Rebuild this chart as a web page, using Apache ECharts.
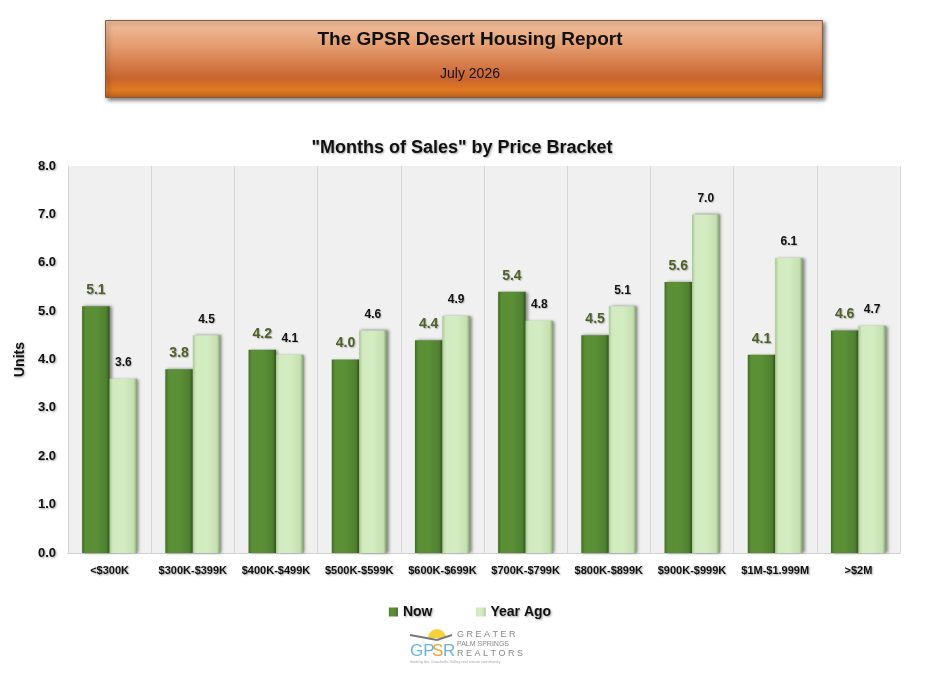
<!DOCTYPE html>
<html><head><meta charset="utf-8">
<script src="https://cdn.jsdelivr.net/npm/echarts@6/dist/echarts.min.js"></script>
<style>html,body{margin:0;padding:0;background:#fff}#c{width:940px;height:683px}</style>
</head><body><div id="c"></div>
<script>
const categories = ['<$300K','$300K-$399K','$400K-$499K','$500K-$599K','$600K-$699K','$700K-$799K','$800K-$899K','$900K-$999K','$1M-$1.999M','>$2M'];
const nowValues = [5.1,3.8,4.2,4.0,4.4,5.4,4.5,5.6,4.1,4.6];
const yearAgoValues = [3.6,4.5,4.1,4.6,4.9,4.8,5.1,7.0,6.1,4.7];
const yTicks = [0,1,2,3,4,5,6,7,8];

const chart = echarts.init(document.getElementById('c'));
const F = 'Arial, "Liberation Sans", sans-serif';
const shadowTxt = {textShadowColor:'rgba(0,0,0,0.35)', textShadowBlur:2, textShadowOffsetX:1, textShadowOffsetY:1};
const darkGrad = new echarts.graphic.LinearGradient(0,0,1,0,[
  {offset:0,color:'#3f6b22'},{offset:0.12,color:'#5a8f36'},{offset:0.5,color:'#5b9036'},{offset:0.88,color:'#4f8030'},{offset:1,color:'#2f521a'}]);
const lightGrad = new echarts.graphic.LinearGradient(0,0,1,0,[
  {offset:0,color:'#a9c893'},{offset:0.12,color:'#d2eabf'},{offset:0.5,color:'#d4ecc2'},{offset:0.88,color:'#c5e0b0'},{offset:1,color:'#7f9c6a'}]);

chart.setOption({
  animation:false,
  backgroundColor:'#ffffff',
  textStyle:{fontFamily:F},
  title:{text:'"Months of Sales" by Price Bracket', left:457, textAlign:'center', top:134,
    textStyle:Object.assign({fontSize:18,fontWeight:'bold',color:'#111',fontFamily:F},shadowTxt)},
  legend:{top:600, left:'center', itemGap:44, itemWidth:9, itemHeight:9, icon:'rect',
    textStyle:Object.assign({fontSize:14,fontWeight:'bold',color:'#111',fontFamily:F},shadowTxt),
    data:['Now','Year Ago']},
  grid:{left:68, right:40, top:166, bottom:130},
  xAxis:{type:'category', data:categories,
    axisLine:{show:true,lineStyle:{color:'#d0d0d0'}}, axisTick:{show:false},
    splitLine:{show:true,lineStyle:{color:'#d6d6d6'}},
    splitArea:{show:true,areaStyle:{color:['#f0f0f0','#f0f0f0']}},
    axisLabel:Object.assign({interval:0,fontSize:11,fontWeight:'bold',color:'#111',margin:12,fontFamily:F},shadowTxt)},
  yAxis:{type:'value', min:0, max:8, interval:1,
    name:'Units', nameLocation:'middle', nameGap:36, nameRotate:90,
    nameTextStyle:Object.assign({fontSize:14,fontWeight:'bold',color:'#111',fontFamily:F},shadowTxt),
    axisLine:{show:false}, axisTick:{show:false},
    splitLine:{lineStyle:{color:'#d6d6d6'}},
    axisLabel:Object.assign({fontSize:13,fontWeight:'bold',color:'#111',margin:12,fontFamily:F,
      formatter:v=>yTicks.includes(v)?v.toFixed(1):''},shadowTxt)},
  series:[
    {name:'Now', type:'bar', data:nowValues, barGap:'0%', barCategoryGap:'34%',
     itemStyle:{color:darkGrad, shadowColor:'rgba(0,0,0,0.45)', shadowBlur:3, shadowOffsetX:2, shadowOffsetY:0},
     label:{show:true, position:'top', distance:9, formatter:p=>p.value.toFixed(1),
       fontSize:14, fontWeight:'bold', color:'#4f6228', fontFamily:F, textShadowColor:'rgba(0,0,0,0.25)', textShadowBlur:1, textShadowOffsetX:1, textShadowOffsetY:1}},
    {name:'Year Ago', type:'bar', data:yearAgoValues,
     itemStyle:{color:lightGrad, shadowColor:'rgba(0,0,0,0.45)', shadowBlur:3, shadowOffsetX:2, shadowOffsetY:0},
     label:{show:true, position:'top', distance:10, formatter:p=>p.value.toFixed(1),
       fontSize:12, fontWeight:'bold', color:'#111', fontFamily:F, textShadowColor:'rgba(0,0,0,0.2)', textShadowBlur:1, textShadowOffsetX:1, textShadowOffsetY:1}}
  ],
  color:['#548235','#c4e0ae'],
  graphic:[
    {type:'rect', left:105, top:20, shape:{width:717,height:77},
     style:{fill:new echarts.graphic.LinearGradient(0,0,0,1,[
       {offset:0,color:'#f2c2a2'},{offset:0.35,color:'#e39a6c'},{offset:0.75,color:'#c9642e'},{offset:0.9,color:'#e07a22'},{offset:1,color:'#b8601c'}]),
       stroke:'#8a5a3a', lineWidth:1, shadowColor:'rgba(0,0,0,0.5)', shadowBlur:4, shadowOffsetX:2, shadowOffsetY:2}},
    {type:'text', left:'center', top:30, style:{text:'The GPSR Desert Housing Report', font:'bold 19px '+F, fill:'#111'}},
    {type:'text', left:'center', top:67, style:{text:'July 2026', font:'14px '+F, fill:'#111'}},
    // logo
    {type:'circle', shape:{cx:437,cy:638,r:9}, style:{fill:'#f5d23a'}},
    {type:'rect', shape:{x:405,y:638,width:50,height:14}, style:{fill:'#fff'}},
    {type:'polyline', shape:{points:[[410,635],[437,640],[452,635]]}, style:{stroke:'#777',lineWidth:2,fill:null}},
    {type:'text', left:410, top:643, style:{text:'GP', font:'17px '+F, fill:'#6bb4dc'}},
    {type:'text', left:432, top:643, style:{text:'S', font:'17px '+F, fill:'#f0a030'}},
    {type:'text', left:443, top:643, style:{text:'R', font:'17px '+F, fill:'#6bb4dc'}},
    {type:'text', left:457, top:630, style:{text:'G R E A T E R', font:'9px '+F, fill:'#888'}},
    {type:'text', left:457, top:641, style:{text:'PALM SPRINGS', font:'7px '+F, fill:'#888'}},
    {type:'text', left:457, top:649, style:{text:'R E A L T O R S', font:'9px '+F, fill:'#888'}},
    {type:'text', left:410, top:660, style:{text:'leading the Coachella Valley real estate community', font:'4px '+F, fill:'#aaa'}}
  ]
});
</script></body></html>
